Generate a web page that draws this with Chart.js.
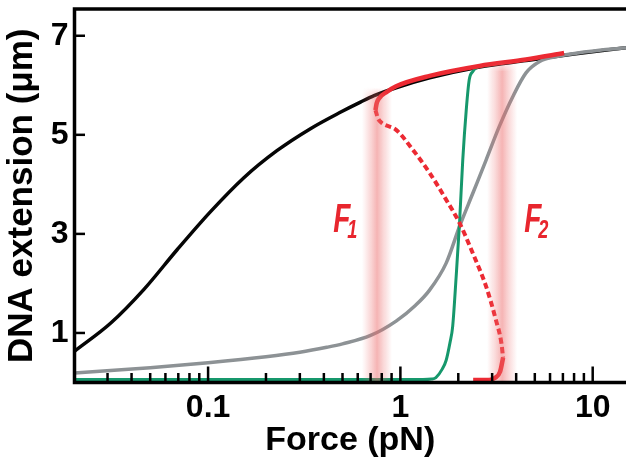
<!DOCTYPE html>
<html>
<head>
<meta charset="utf-8">
<script src="https://cdn.jsdelivr.net/npm/chart.js@4.4.1/dist/chart.umd.min.js"></script>
<style>
  html, body { margin: 0; padding: 0; background: #fff; }
  #wrap { width: 626px; height: 459px; }
</style>
</head>
<body>
<div id="wrap"><canvas id="c" width="626" height="459"></canvas></div>
<script>
// Axis ranges
const X_MIN = 0.0202;
const X_MAX = 14.9;
const Y_MIN = 0;
const Y_MAX = 7.54;

// Tick positions and labels
const xTickValues = [0.03, 0.04, 0.05, 0.06, 0.07, 0.08, 0.09,
                     0.1, 0.2, 0.3, 0.4, 0.5, 0.6, 0.7, 0.8, 0.9,
                     1, 2, 3, 4, 5, 6, 7, 8, 9, 10];
const xTickLabels = { 0.1: '0.1', 1: '1', 10: '10' };
const yTickValues = [1, 3, 5, 7];

// Bare DNA (black)
const bareForce = [0.0202, 0.0312, 0.0464, 0.069, 0.103, 0.153, 0.228, 0.339, 0.49, 0.62, 0.73, 0.95, 1.42, 2.58, 4.5, 8.0, 14.9];
const bareExt   = [0.63,   1.20,   1.88,   2.68,  3.45,  4.13,  4.68,  5.12,  5.46, 5.66, 5.79, 5.95, 6.15, 6.37, 6.50, 6.63, 6.76];

// Gray curve
const grayForce = [0.0202, 0.05, 0.1, 0.2, 0.3, 0.414, 0.5, 0.7, 0.95, 1.2, 1.415, 1.73, 2.03, 2.38, 2.79, 3.27, 3.84, 4.5, 5.3, 6.5, 9.0, 14.9];
const grayExt   = [0.19,   0.30, 0.40, 0.52, 0.61, 0.71, 0.78, 0.95, 1.24, 1.56, 1.86, 2.41, 3.15, 3.82, 4.49, 5.17, 5.77, 6.25, 6.48, 6.58, 6.67, 6.76];

// Green curve
const greenForce = [0.0202, 1.31, 1.45, 1.53, 1.65, 1.73, 1.81, 1.87, 1.95, 2.03, 2.11, 2.2, 2.28, 2.38, 2.47, 2.8, 4.5, 7.1];
const greenExt   = [0.06,   0.06, 0.07, 0.10, 0.27, 0.45, 0.80, 1.13, 2.14, 3.22, 4.49, 5.50, 6.11, 6.28, 6.35, 6.40, 6.52, 6.64];

// Red: upper stable branch, unstable (dashed) branch, lower stable branch
const redUpperForce = [0.742, 0.752, 0.772, 0.853, 0.95, 1.42, 2.58, 4.5, 7.1];
const redUpperExt   = [5.50,  5.63,  5.73,  5.87,  5.98, 6.19, 6.39, 6.52, 6.65];
const redMidForce = [0.742, 0.765, 0.8, 0.95, 1.16, 1.42, 1.73, 2.03, 2.38, 2.79, 3.14, 3.35, 3.42];
const redMidExt   = [5.50,  5.33,  5.24, 5.10, 4.70, 4.23, 3.69, 3.22, 2.61, 1.94, 1.26, 0.80, 0.50];
const redLowerForce = [2.39, 2.9, 3.1, 3.3, 3.42];
const redLowerExt   = [0.05, 0.05, 0.09, 0.22, 0.50];

// Transition forces (shaded bands) and their labels
const bandForce = [0.756, 3.38];
const bandTop   = [5.95, 6.5];
const bandNames = ['F', 'F'];
const bandSubs  = ['1', '2'];
const labelForce = [0.447, 4.4];
const labelExt   = [3.04, 3.04];

const pts = (xs, ys) => xs.map((v, i) => ({ x: v, y: ys[i] }));

const RED = '#ec2a33';
const BOLD = '"Liberation Sans", Arial, Helvetica, sans-serif';

const decorations = {
  id: 'decorations',
  afterDatasetsDraw(chart) {
    const { ctx, scales: { x, y } } = chart;
    ctx.save();
    // soft vertical bands at the transition forces
    bandForce.forEach((f, i) => {
      const cx = x.getPixelForValue(f);
      const top = y.getPixelForValue(bandTop[i]);
      const bot = y.getPixelForValue(0);
      const hw = 15;
      const g = ctx.createLinearGradient(cx - hw, 0, cx + hw, 0);
      g.addColorStop(0, 'rgba(236,105,105,0)');
      g.addColorStop(0.3, 'rgba(236,105,105,0.28)');
      g.addColorStop(0.5, 'rgba(236,105,105,0.5)');
      g.addColorStop(0.7, 'rgba(236,105,105,0.28)');
      g.addColorStop(1, 'rgba(236,105,105,0)');
      ctx.fillStyle = g;
      const fade = 10;
      for (let k = 0; k < fade; k++) {
        ctx.globalAlpha = (k + 0.5) / fade;
        ctx.fillRect(cx - hw, top + k, 2 * hw, 1);
      }
      ctx.globalAlpha = 1;
      ctx.fillRect(cx - hw, top + fade, 2 * hw, bot - top - fade);
    });
    // F1 / F2 labels
    ctx.fillStyle = '#e8262e';
    ctx.textBaseline = 'alphabetic';
    ctx.textAlign = 'left';
    labelForce.forEach((f, i) => {
      const px = x.getPixelForValue(f);
      const py = y.getPixelForValue(labelExt[i]);
      ctx.save();
      ctx.translate(px, py);
      ctx.scale(0.7, 1);
      ctx.font = 'italic 700 40px ' + BOLD;
      ctx.fillText(bandNames[i], 0, 0);
      ctx.font = 'italic 700 26px ' + BOLD;
      ctx.fillText(bandSubs[i], 20, 6);
      ctx.restore();
    });
    ctx.restore();
  },
  afterDraw(chart) {
    const { ctx, chartArea: a, scales: { x, y } } = chart;
    ctx.save();
    ctx.strokeStyle = '#000';
    // inward tick marks
    ctx.lineWidth = 2.5;
    ctx.lineCap = 'butt';
    x.ticks.forEach(t => {
      const px = x.getPixelForValue(t.value);
      const lg = Math.log10(t.value);
      const major = Math.abs(lg - Math.round(lg)) < 1e-6;
      const len = major ? 16 : 9.5;
      ctx.beginPath();
      ctx.moveTo(px, a.bottom);
      ctx.lineTo(px, a.bottom - len);
      ctx.stroke();
    });
    y.ticks.forEach(t => {
      const py = y.getPixelForValue(t.value);
      ctx.beginPath();
      ctx.moveTo(a.left, py);
      ctx.lineTo(a.left + 10.5, py);
      ctx.stroke();
    });
    // frame: left, bottom and top
    ctx.lineWidth = 3.5;
    ctx.lineCap = 'square';
    ctx.beginPath();
    ctx.moveTo(a.right + 2, a.top);
    ctx.lineTo(a.left, a.top);
    ctx.lineTo(a.left, a.bottom);
    ctx.lineTo(a.right + 2, a.bottom);
    ctx.stroke();
    ctx.restore();
  }
};

// keep the plot area fixed: no extra room reserved for overhanging tick labels
const noOverhang = s => {
  s.paddingTop = 0; s.paddingBottom = 0; s.paddingLeft = 0; s.paddingRight = 0;
};

const lineDefaults = { pointRadius: 0, fill: false, cubicInterpolationMode: 'monotone' };

new Chart(document.getElementById('c'), {
  type: 'line',
  data: {
    datasets: [
      Object.assign({ label: 'red upper', data: pts(redUpperForce, redUpperExt), borderColor: RED, borderWidth: 4.5, order: 0 }, lineDefaults),
      Object.assign({ label: 'red lower', data: pts(redLowerForce, redLowerExt), borderColor: RED, borderWidth: 4.5, order: 1 }, lineDefaults),
      Object.assign({ label: 'red unstable', data: pts(redMidForce, redMidExt), borderColor: RED, borderWidth: 4, borderDash: [6, 3.5], order: 2 }, lineDefaults),
      Object.assign({ label: 'green', data: pts(greenForce, greenExt), borderColor: '#16986c', borderWidth: 3, order: 3 }, lineDefaults),
      Object.assign({ label: 'gray', data: pts(grayForce, grayExt), borderColor: '#8d9295', borderWidth: 3.5, order: 4 }, lineDefaults),
      Object.assign({ label: 'bare', data: pts(bareForce, bareExt), borderColor: '#050505', borderWidth: 3.5, order: 5 }, lineDefaults)
    ]
  },
  options: {
    responsive: false,
    animation: false,
    layout: { padding: { top: 9, left: 0, right: 0, bottom: 0 }, autoPadding: false },
    plugins: { legend: { display: false }, tooltip: { enabled: false } },
    scales: {
      x: {
        type: 'logarithmic',
        position: 'bottom',
        min: X_MIN,
        max: X_MAX,
        afterBuildTicks: s => { s.ticks = xTickValues.map(v => ({ value: v })); },
        afterFit: s => { s.height = 76.5; noOverhang(s); },
        grid: { display: false, drawTicks: false },
        border: { display: false },
        ticks: {
          autoSkip: false, maxRotation: 0, minRotation: 0, padding: 6, color: '#000',
          font: { family: BOLD, size: 32, weight: 'bold' },
          callback: v => {
            const k = Object.keys(xTickLabels).find(kk => Math.abs(+kk - v) < 1e-9);
            return k !== undefined ? xTickLabels[k] : '';
          }
        },
        title: {
          display: true, text: 'Force (pN)', color: '#000',
          font: { family: BOLD, size: 34, weight: 'bold', lineHeight: 1.1 },
          padding: { top: 0, bottom: 0 }
        }
      },
      y: {
        type: 'linear',
        position: 'left',
        min: Y_MIN,
        max: Y_MAX,
        afterBuildTicks: s => { s.ticks = yTickValues.map(v => ({ value: v })); },
        afterFit: s => { s.width = 74.5; noOverhang(s); },
        grid: { display: false, drawTicks: false },
        border: { display: false },
        ticks: {
          padding: 6, color: '#000',
          font: { family: BOLD, size: 32, weight: 'bold' },
          callback: v => String(v)
        },
        title: {
          display: true, text: 'DNA extension (μm)', color: '#000',
          font: { family: BOLD, size: 35, weight: 'bold', lineHeight: 1.2 },
          padding: { top: 1.5, bottom: 0 }
        }
      }
    }
  },
  plugins: [decorations]
});
</script>
</body>
</html>
